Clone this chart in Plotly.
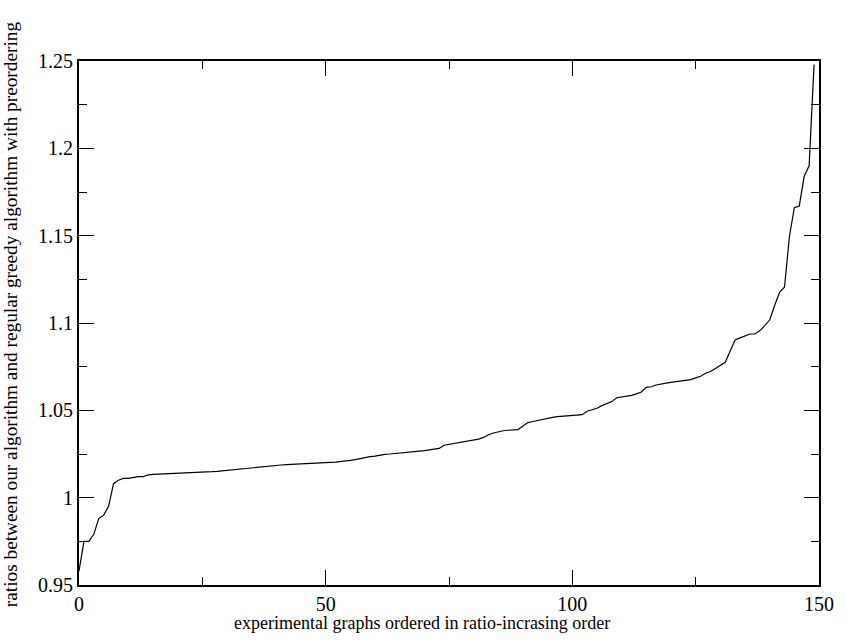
import plotly.graph_objects as go

# ratio values for the 150 experimental graphs (sorted)
ratios = [
    0.958, 0.975, 0.975, 0.979, 0.988, 0.990, 0.995, 1.008, 1.010, 1.011,
    1.011, 1.0115, 1.012, 1.012, 1.013, 1.0133, 1.0134, 1.0135, 1.0136, 1.0137,
    1.0138, 1.0139, 1.0140, 1.0141, 1.0143, 1.0145, 1.0147, 1.0149, 1.0151, 1.0154,
    1.0157, 1.0160, 1.0163, 1.0166, 1.0170, 1.0173, 1.0176, 1.0179, 1.0182, 1.0184,
    1.0186, 1.0187, 1.0189, 1.0190, 1.0192, 1.0194, 1.0195, 1.0196, 1.0198, 1.0199,
    1.0200, 1.0202, 1.0204, 1.0206, 1.0209, 1.0213, 1.0218, 1.0225, 1.0231, 1.0235,
    1.0238, 1.0244, 1.0248, 1.0250, 1.0252, 1.0254, 1.0257, 1.0260, 1.0263, 1.0266,
    1.0269, 1.0272, 1.0275, 1.0282, 1.0300, 1.0305, 1.0310, 1.0314, 1.0320, 1.0325,
    1.0329, 1.0335, 1.0345, 1.0360, 1.0370, 1.0378, 1.0383, 1.0386, 1.0388, 1.0390,
    1.0410, 1.0430, 1.0436, 1.0443, 1.0450, 1.0455, 1.0460, 1.0464, 1.0466, 1.0467,
    1.0468, 1.0469, 1.0475, 1.0495, 1.0505, 1.0512, 1.0527, 1.0538, 1.0550, 1.0572,
    1.0576, 1.0580, 1.0586, 1.0594, 1.0605, 1.0632, 1.0635, 1.0645, 1.0652, 1.0656,
    1.0660, 1.0663, 1.0670, 1.0673, 1.0676, 1.0686, 1.0695, 1.0712, 1.0722, 1.0740,
    1.0760, 1.0775, 1.0840, 1.0903, 1.0915, 1.0925, 1.0937, 1.0937, 1.0955, 1.0985,
    1.1017, 1.1100, 1.1175, 1.1205, 1.1494, 1.1660, 1.1670, 1.1840, 1.1900, 1.2480,
]
graph_index = list(range(len(ratios)))

x_tickvals = [0, 50, 100, 150]
x_ticktext = ["0", "50", "100", "150"]
y_tickvals = [0.95, 1.0, 1.05, 1.1, 1.15, 1.2, 1.25]
y_ticktext = ["0.95", "1", "1.05", "1.1", "1.15", "1.2", "1.25"]

x_title = "experimental graphs ordered in ratio-incrasing order"
y_title = "ratios between our algorithm and regular greedy algorithm with preordering"

FONT = "Liberation Serif, Times New Roman, serif"

fig = go.Figure()
fig.add_trace(go.Scatter(
    x=graph_index, y=ratios, mode="lines",
    line=dict(color="black", width=1.2),
    showlegend=False, hoverinfo="skip",
))

fig.update_layout(
    width=846, height=641,
    margin=dict(l=79, r=18, t=61, b=56),
    paper_bgcolor="white", plot_bgcolor="white",
    font=dict(family=FONT, size=20, color="black"),
    annotations=[
        dict(text=x_title, xref="paper", yref="paper", x=0.463, y=-0.0725,
             xanchor="center", yanchor="middle", showarrow=False,
             font=dict(family=FONT, size=18, color="black")),
        dict(text=y_title, xref="paper", yref="paper", x=-0.0925, y=0.516,
             xanchor="center", yanchor="middle", showarrow=False, textangle=-90,
             font=dict(family=FONT, size=19.3, color="black")),
    ],
)

fig.update_xaxes(
    range=[0, 150], tickmode="array", tickvals=x_tickvals, ticktext=x_ticktext,
    ticks="inside", ticklen=15, tickwidth=1, tickcolor="black",
    minor=dict(tickvals=[25, 75, 125], ticks="inside", ticklen=8, tickcolor="black", tickwidth=1),
    showline=True, linecolor="black", linewidth=2, mirror="ticks",
    showgrid=False, zeroline=False,
    tickfont=dict(family=FONT, size=20, color="black"),
)
fig.update_yaxes(
    range=[0.95, 1.25], tickmode="array", tickvals=y_tickvals, ticktext=y_ticktext,
    ticks="inside", ticklen=15, tickwidth=1, tickcolor="black",
    minor=dict(tickvals=[0.975, 1.025, 1.075, 1.125, 1.175, 1.225], ticks="inside",
               ticklen=8, tickcolor="black", tickwidth=1),
    showline=True, linecolor="black", linewidth=2, mirror="ticks",
    showgrid=False, zeroline=False,
    tickfont=dict(family=FONT, size=20, color="black"),
)

fig.write_html("out.html")
